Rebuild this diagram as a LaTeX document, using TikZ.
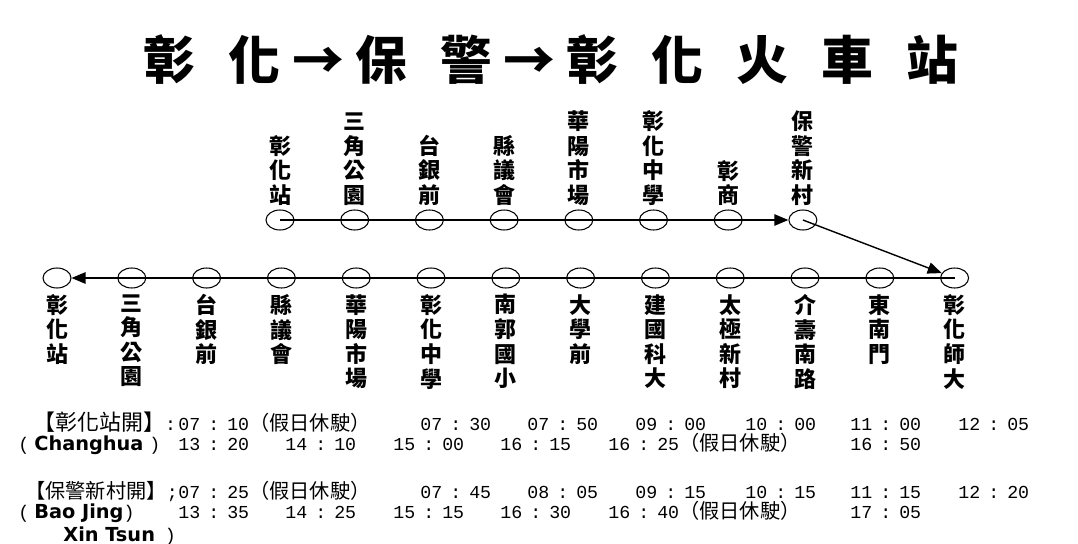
\documentclass[tikz,border=0pt]{standalone}
\usepackage{fontspec}
\usetikzlibrary{shapes.geometric,arrows.meta}
\newfontfamily\cjk{Noto Sans CJK TC}
\newfontfamily\monofont{Liberation Mono}
\newfontfamily\latbold{DejaVu Sans}
\newcommand{\tgap}{\hspace{0.66cm}}
\newcommand{\agap}{\hspace{0.23cm}}
\newcommand{\engfont}{\latbold\bfseries\fontsize{11}{13}\selectfont}
\newcommand{\monosize}{\monofont\fontsize{10.4}{12}\selectfont}
\newcommand{\hm}[2]{#1\makebox[0.54cm]{:}#2}
\newcommand{\offday}{{\cjk\fontsize{11.5}{13}\selectfont （假日休駛）}}
\begin{document}
\begin{tikzpicture}[x=0.02cm,y=-0.02cm]
  \tikzset{stop/.style={draw,ellipse,minimum width=0.56cm,minimum height=0.4cm,inner sep=0pt,line width=0.6pt},
    stopname/.style={font=\cjk\bfseries\fontsize{12.5}{14}\selectfont,align=center,inner sep=0pt},
    timetxt/.style={font=\monosize,anchor=base west,inner sep=0pt},
    notetxt/.style={font=\cjk\fontsize{12.5}{14}\selectfont,anchor=base west,inner sep=0pt},
    route/.style={line width=0.8pt,-{Triangle[length=8pt,width=6.5pt]}}}
  \useasboundingbox[fill=white] (0,0) rectangle (1078,544);

  \node[font=\cjk\bfseries\fontsize{29.5}{32}\selectfont,inner sep=0pt] (title) at (551,60)
    {彰\tgap 化\agap →\agap 保\tgap 警\agap →\agap 彰\tgap 化\tgap 火\tgap 車\tgap 站};

  % to Bao Jing
  \foreach \lbl [count=\i] in {{彰\\化\\站},{三\\角\\公\\園},{台\\銀\\前},{縣\\議\\會},{華\\陽\\市\\場},{彰\\化\\中\\學},{彰\\商},{保\\警\\新\\村}}
    {\node[stop] (t\i) at ({280+74.7*(\i-1)},220) {};
     \node[stopname,anchor=south] (tl\i) at ({280+74.7*(\i-1)},206) {\lbl};}

  % back to the station
  \foreach \lbl [count=\i] in {{彰\\化\\站},{三\\角\\公\\園},{台\\銀\\前},{縣\\議\\會},{華\\陽\\市\\場},{彰\\化\\中\\學},{南\\郭\\國\\小},{大\\學\\前},{建\\國\\科\\大},{太\\極\\新\\村},{介\\壽\\南\\路},{東\\南\\門},{彰\\化\\師\\大}}
    {\node[stop] (b\i) at ({57+74.8*(\i-1)},278) {};
     \node[stopname,anchor=north] (bl\i) at ({57+74.8*(\i-1)},294) {\lbl};}

  \draw[route] (t1.center) -- (t8);
  \draw[route] (t8.center) -- (b13);
  \draw[route] (b13.center) -- (b1);

  % timetable
  \node[notetxt] (hda) at (33,430) {【彰化站開】{\monosize:}};
  \node[timetxt] (enga) at (18,450) {(\hspace{0.1cm}{\engfont Changhua}\hspace{0.12cm})};
  \foreach \x/\h/\m [count=\i] in {178/07/10,420/07/30,527/07/50,635/09/00,745/10/00,850/11/00,958/12/05}
    \node[timetxt] (ca\i) at (\x,430) {\hm{\h}{\m}\ifnum\i=1\offday\fi};
  \foreach \x/\h/\m [count=\i] in {178/13/20,285/14/10,393/15/00,500/16/15,608/16/25,850/16/50}
    \node[timetxt] (cb\i) at (\x,450) {\hm{\h}{\m}\ifnum\i=5\offday\fi};

  \node[notetxt,font=\cjk\fontsize{11.5}{14}\selectfont] (hdb) at (25,498) {【保警新村開】{\monosize;}};
  \node[timetxt] (engb) at (18,518) {(\hspace{0.1cm}{\engfont Bao Jing})};
  \node[timetxt] (engc) at (63,541) {{\engfont Xin Tsun}\hspace{0.2cm})};
  \foreach \x/\h/\m [count=\i] in {178/07/25,420/07/45,527/08/05,635/09/15,745/10/15,850/11/15,958/12/20}
    \node[timetxt] (pa\i) at (\x,498) {\hm{\h}{\m}\ifnum\i=1\offday\fi};
  \foreach \x/\h/\m [count=\i] in {178/13/35,285/14/25,393/15/15,500/16/30,608/16/40,850/17/05}
    \node[timetxt] (pb\i) at (\x,518) {\hm{\h}{\m}\ifnum\i=5\offday\fi};
\end{tikzpicture}
\end{document}
